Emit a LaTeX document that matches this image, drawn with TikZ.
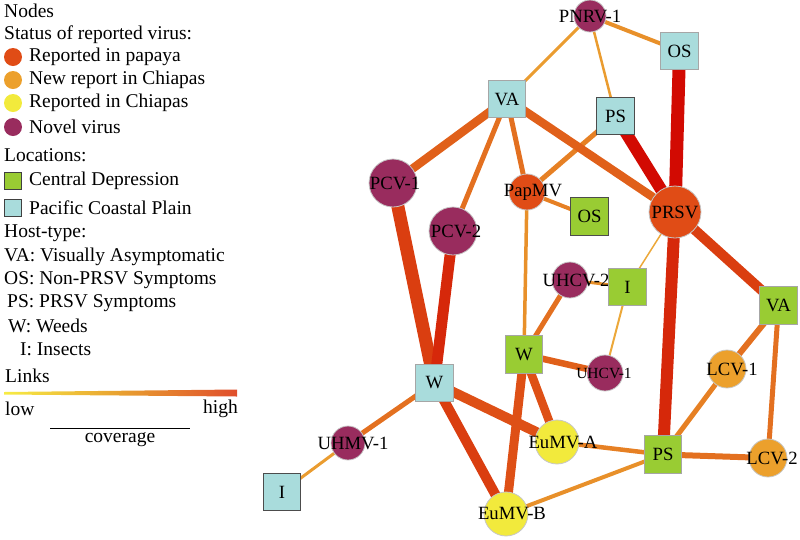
\documentclass[tikz,border=0pt]{standalone}
\usepackage{fontspec}
\setmainfont{Liberation Serif}
\usetikzlibrary{backgrounds}
\definecolor{novel}{HTML}{992C5E}
\definecolor{papaya}{HTML}{E04C16}
\definecolor{newrep}{HTML}{ECA02C}
\definecolor{chiapas}{HTML}{F2EA3C}
\definecolor{central}{HTML}{99CC33}
\definecolor{pacific}{HTML}{A9DCDC}
\definecolor{c1}{HTML}{ECA83A}
\definecolor{c2}{HTML}{EA9C30}
\definecolor{c3}{HTML}{E8902A}
\definecolor{c4}{HTML}{E68024}
\definecolor{c5}{HTML}{E37020}
\definecolor{c6}{HTML}{E0601A}
\definecolor{c7}{HTML}{DE5016}
\definecolor{c8}{HTML}{DA3E10}
\definecolor{c9}{HTML}{D6280A}
\definecolor{c10}{HTML}{D20A02}
\definecolor{lowc}{HTML}{F7EC45}
\definecolor{midc}{HTML}{E8A030}
\definecolor{highc}{HTML}{E04E2C}
\begin{document}
\begin{tikzpicture}[x=1pt,y=-1pt,
  lab/.style={font=\fontsize{18.7}{20}\selectfont, inner sep=0pt},
  leg/.style={font=\fontsize{19.5}{22}\selectfont, inner sep=0pt, anchor=west},
  vnode/.style={circle, inner sep=0pt, draw=black!22, line width=0.8pt},
  novelc/.style={vnode, fill=novel},
  papc/.style={vnode, fill=papaya},
  newc/.style={vnode, fill=newrep},
  chic/.style={vnode, fill=chiapas},
  sq/.style={rectangle, minimum size=37.5pt, inner sep=0pt, line width=0.8pt,
    font=\fontsize{18.7}{20}\selectfont},
  sqb/.style={sq, fill=pacific, draw=black!35},
  sqg/.style={sq, fill=central, draw=black!35},
  sqbd/.style={sq, fill=pacific, draw=black!70},
  sqgd/.style={sq, fill=central, draw=black!70},
  edge/.style n args={2}{line width=#1pt, draw=#2},
]
\useasboundingbox (0,0) rectangle (800,539);

% ---------- Legend ----------
\node[leg] (tnodes) at (4,11) {Nodes};
\node[leg] (tstatus) at (4,35) {Status of reported virus:};
\node[circle, inner sep=0pt, minimum size=18pt, fill=papaya] (m1) at (13,57) {};
\node[circle, inner sep=0pt, minimum size=18pt, fill=newrep] (m2) at (13,80) {};
\node[circle, inner sep=0pt, minimum size=18pt, fill=chiapas] (m3) at (13,103) {};
\node[circle, inner sep=0pt, minimum size=18pt, fill=novel] (m4) at (13,127) {};
\node[leg] (t1) at (29,57) {Reported in papaya};
\node[leg] (t2) at (29,80) {New report in Chiapas};
\node[leg] (t3) at (29,103) {Reported in Chiapas};
\node[leg] (t4) at (29,127) {Novel virus};
\node[leg] (tloc) at (4,155) {Locations:};
\node[rectangle, inner sep=0pt, minimum size=17pt, fill=central, draw=black!75, line width=0.8pt] (s1) at (13,181) {};
\node[rectangle, inner sep=0pt, minimum size=17pt, fill=pacific, draw=black!75, line width=0.8pt] (s2) at (13,207.5) {};
\node[leg] (t5) at (29,181) {Central Depression};
\node[leg] (t6) at (29,208) {Pacific Coastal Plain};
\node[leg] (thost) at (4,233) {Host-type:};
\node[leg] (h1) at (4,257) {VA: Visually Asymptomatic};
\node[leg] (h2) at (4,280) {OS: Non-PRSV Symptoms};
\node[leg] (h3) at (7,303) {PS: PRSV Symptoms};
\node[leg] (h4) at (8,326) {W: Weeds};
\node[leg] (h5) at (20,349) {I: Insects};
\node[leg] (tlinks) at (5,376) {Links};
\shade[left color=lowc, right color=highc, middle color=midc]
  (4,392) -- (237,389.5) -- (237,396.5) -- (4,394.5) -- cycle;
\node[leg] (tlow) at (5,409) {low};
\node[leg, anchor=east] (thigh) at (238,409) {high};
\coordinate (cl) at (50,428);
\coordinate (cr) at (190,428);
\draw[line width=1pt] (cl) -- (cr);
\node[leg, anchor=center] (tcov) at (120,440) {coverage};

% ---------- Network nodes ----------
\node[novelc, minimum size=32pt, label={[lab]center:PNRV-1}] (pnrv) at (590,16) {};
\node[sqb] (osb) at (679.5,51) {OS};
\node[sqb] (vab) at (507,99) {VA};
\node[sqbd] (psb) at (615.5,116) {PS};
\node[papc, minimum size=52pt, label={[lab]center:PRSV}] (prsv) at (675,212) {};
\node[papc, minimum size=36pt, label={[lab,xshift=6pt]center:PapMV}] (papmv) at (527,192) {};
\node[sqgd] (osg) at (589.5,216.5) {OS};
\node[novelc, minimum size=48pt, label={[lab,xshift=2pt]center:PCV-1}] (pcv1) at (393,183) {};
\node[novelc, minimum size=48pt, label={[lab,xshift=3pt]center:PCV-2}] (pcv2) at (453,231) {};
\node[novelc, minimum size=36pt, label={[lab,xshift=6pt]center:UHCV-2}] (uhcv2) at (570,280) {};
\node[sqg] (ig) at (627.5,287) {I};
\node[sqg] (vag) at (778.5,305.5) {VA};
\node[sqg] (wg) at (524,354.5) {W};
\node[novelc, minimum size=36pt, label={[lab,font=\fontsize{15.5}{17}\selectfont,xshift=-1pt]center:UHCV-1}] (uhcv1) at (605,373) {};
\node[newc, minimum size=38pt, label={[lab,xshift=5pt]center:LCV-1}] (lcv1) at (727,369) {};
\node[sqb] (wb) at (434.5,383) {W};
\node[novelc, minimum size=34pt, label={[lab,xshift=5pt]center:UHMV-1}] (uhmv1) at (348,443) {};
\node[sqbd] (ib) at (282,492) {I};
\node[chic, minimum size=44pt, label={[lab,xshift=6pt]center:EuMV-A}] (eumva) at (557,442) {};
\node[sqg] (psg) at (663,454.5) {PS};
\node[newc, minimum size=38pt, label={[lab,xshift=4pt]center:LCV-2}] (lcv2) at (768,458) {};
\node[chic, minimum size=44pt, label={[lab,xshift=6pt]center:EuMV-B}] (eumvb) at (506,514) {};

% ---------- Links ----------
\begin{pgfonlayer}{background}
\draw[edge={4}{c3}] (pnrv.center) -- (osb.center);
\draw[edge={2.5}{c2}] (pnrv.center) -- (psb.center);
\draw[edge={3}{c2}] (pnrv.center) -- (vab.center);
\draw[edge={13}{c10}] (osb.center) -- (prsv.center);
\draw[edge={12}{c10}] (psb.center) -- (prsv.center);
\draw[edge={5}{c4}] (psb.center) -- (papmv.center);
\draw[edge={8.5}{c6}] (vab.center) -- (pcv1.center);
\draw[edge={5}{c5}] (vab.center) -- (pcv2.center);
\draw[edge={5}{c5}] (vab.center) -- (papmv.center);
\draw[edge={8.5}{c6}] (vab.center) -- (prsv.center);
\draw[edge={4}{c4}] (papmv.center) -- (osg.center);
\draw[edge={3.5}{c3}] (papmv.center) -- (wg.center);
\draw[edge={13}{c8}] (pcv1.center) -- (wb.center);
\draw[edge={11}{c9}] (pcv2.center) -- (wb.center);
\draw[edge={12}{c9}] (prsv.center) -- (psg.center);
\draw[edge={10}{c8}] (prsv.center) -- (vag.center);
\draw[edge={1.5}{c1}] (prsv.center) -- (ig.center);
\draw[edge={3}{c3}] (uhcv2.center) -- (ig.center);
\draw[edge={5}{c5}] (uhcv2.center) -- (wg.center);
\draw[edge={2}{c1}] (ig.center) -- (uhcv1.center);
\draw[edge={6.5}{c6}] (wg.center) -- (uhcv1.center);
\draw[edge={8.5}{c7}] (wg.center) -- (eumva.center);
\draw[edge={9}{c7}] (wg.center) -- (eumvb.center);
\draw[edge={10}{c7}] (wb.center) -- (eumva.center);
\draw[edge={10}{c8}] (wb.center) -- (eumvb.center);
\draw[edge={5}{c5}] (wb.center) -- (uhmv1.center);
\draw[edge={3}{c2}] (uhmv1.center) -- (ib.center);
\draw[edge={4.5}{c4}] (eumva.center) -- (psg.center);
\draw[edge={4}{c3}] (eumvb.center) -- (psg.center);
\draw[edge={5}{c4}] (psg.center) -- (lcv1.center);
\draw[edge={6}{c5}] (psg.center) -- (lcv2.center);
\draw[edge={6}{c5}] (vag.center) -- (lcv1.center);
\draw[edge={5}{c5}] (vag.center) -- (lcv2.center);
\end{pgfonlayer}
\end{tikzpicture}
\end{document}
